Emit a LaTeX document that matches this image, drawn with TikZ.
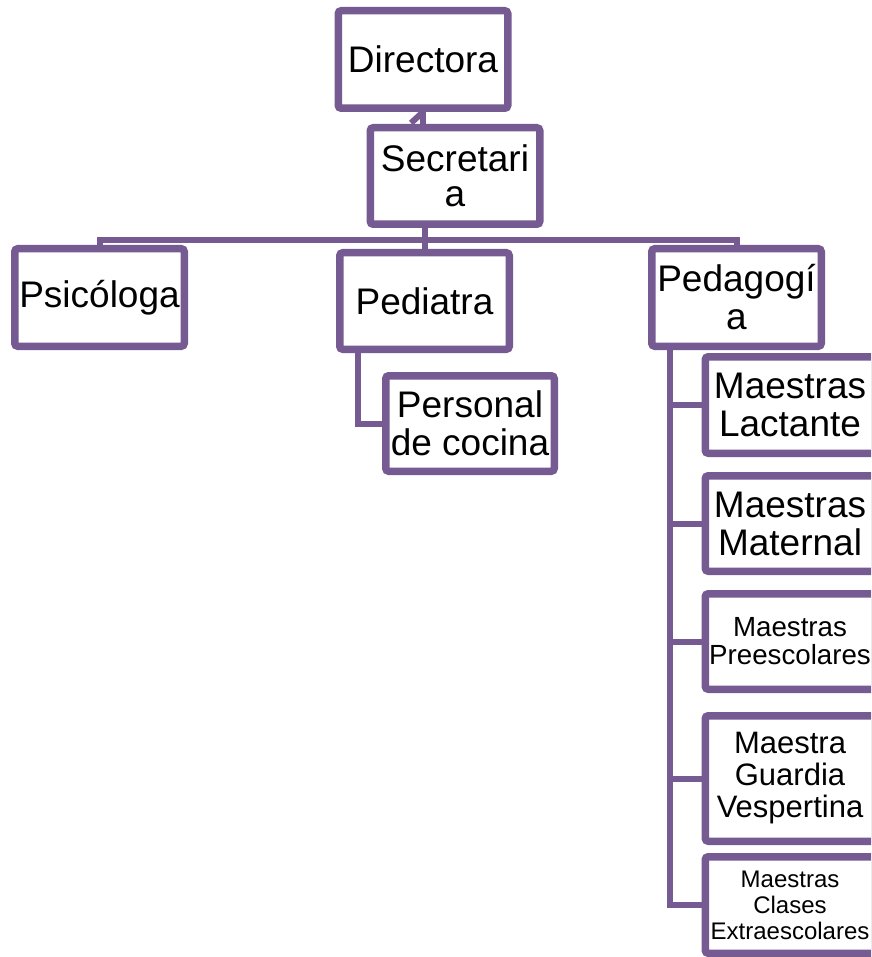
\documentclass[tikz,border=0pt]{standalone}
\usepackage{fontspec}
\setmainfont{Liberation Sans}
\usetikzlibrary{shadows,backgrounds}
\definecolor{orgpurple}{RGB}{118,91,147}
\begin{document}
\begin{tikzpicture}[x=1pt,y=-1pt,
  box/.style={draw=orgpurple, line width=7.5pt, fill=white, rounded corners=3pt,
    minimum width=169.5pt, inner sep=0pt, align=center,
    drop shadow={opacity=0.15, shadow xshift=1pt, shadow yshift=-3pt}},
  big/.style={font=\fontsize{37}{38}\selectfont},
  link/.style={draw=orgpurple, line width=6pt}]
\useasboundingbox (0,0) rectangle (871,957);
\clip (0,0) rectangle (871,957);

\node[box,big,minimum height=97.5pt] (dir) at (423,59.5) {Directora};
\node[box,font=\fontsize{37}{35}\selectfont,minimum height=96.5pt] (sec) at (455,176) {Secretari\\a};
\node[box,big,minimum height=97.5pt] (psi) at (99.5,297.5) {Psicóloga};
\node[box,big,minimum height=96.5pt] (ped) at (424.5,301) {Pediatra};
\node[box,big,minimum height=97.5pt] (pdg) at (736.5,297.5) {Pedagogí\\a};
\node[box,big,minimum height=95.5pt,minimum width=168.5pt] (per) at (470,423.5) {Personal\\de cocina};
\node[box,big,minimum height=96.5pt] (lac) at (790,405) {Maestras\\Lactante};
\node[box,big,minimum height=95.5pt] (mat) at (790,523.5) {Maestras\\Maternal};
\node[box,font=\fontsize{27.7}{28}\selectfont,minimum height=95.5pt] (pre) at (790,641.5) {Maestras\\Preescolares};
\node[box,font=\fontsize{31}{32}\selectfont,minimum height=125.5pt] (gua) at (790,778.5) {Maestra\\Guardia\\Vespertina};
\node[box,font=\fontsize{24}{26}\selectfont,minimum height=96.5pt] (ext) at (790,905) {Maestras\\Clases\\Extraescolares};

\coordinate (bar) at (0,240);
\begin{pgfonlayer}{background}
\fill[white] (0,0) rectangle (871,957);
\draw[link] (dir.south) -- (dir.south |- sec.north);
\draw[link] (dir.south) -- ++(-12,11);
\draw[link] (psi.north) -- (psi.north |- bar) -- (pdg.north |- bar) -- (pdg.north);
\draw[link] (ped.north |- sec.south) -- (ped.north);
\draw[link] ([xshift=22pt]ped.south west) |- (per.west);
\draw[link] ([xshift=22pt]pdg.south west) |- (ext.west);
\foreach \c in {lac,mat,pre,gua}
  \draw[link] ([xshift=22pt]pdg.south west |- \c.west) -- (\c.west);
\end{pgfonlayer}
\end{tikzpicture}
\end{document}
